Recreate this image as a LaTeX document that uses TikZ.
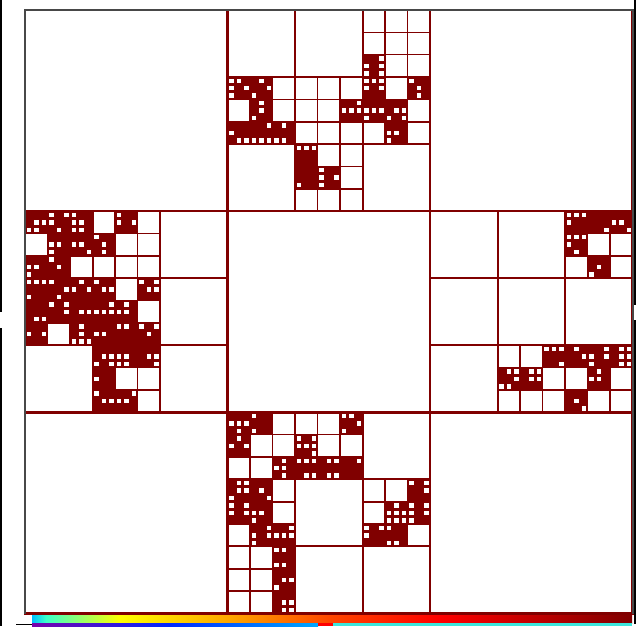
\documentclass[tikz,border=0pt]{standalone}
\definecolor{mred}{RGB}{128,0,0}
\definecolor{fgray}{RGB}{72,72,72}
\definecolor{cbA}{RGB}{0,190,255}
\definecolor{cbB}{RGB}{60,255,200}
\definecolor{cbC}{RGB}{255,255,0}
\definecolor{cbD}{RGB}{255,165,0}
\definecolor{cbE}{RGB}{255,70,0}
\definecolor{cbF}{RGB}{255,0,0}
\definecolor{cbG}{RGB}{128,0,0}
\definecolor{sbA}{RGB}{120,0,170}
\definecolor{sbB}{RGB}{0,40,255}
\definecolor{sbC}{RGB}{0,170,255}
\definecolor{sbD}{RGB}{60,230,220}
\tikzset{
  lone/.style={draw=mred, line width=2.6pt},
  ltwo/.style={draw=mred, line width=2pt},
  lthree/.style={draw=mred, line width=1.5pt},
  darkcell/.style={fill=mred},
  leafsq/.style={fill=white},
  frameline/.style={draw=fgray, line width=2pt},
  artline/.style={draw=black, line width=2pt},
}
\begin{document}
\begin{tikzpicture}[x=1pt,y=-1pt]
\useasboundingbox (0,0) rectangle (644,626);
\fill[white] (0,0) rectangle (644,626);
\begin{scope}[shift={(25,10)}, x=7.5pt, y=-7.451pt]
  % level-3 cells inside refined level-2 blocks
  \foreach \ax/\ay/\bl in {27/0/{2/0,0/1,1/1,2/1,1/2},
                           0/27/{0/0,1/0,0/1,1/1,1/2},
                           54/27/{2/0,1/2,2/2},
                           27/54/{0/0,1/0,0/1,2/1,0/2}} {
    \foreach \bx/\by in \bl {
      \foreach \i in {0,1,2} {
        \foreach \j in {0,1,2} {
          \draw[lthree] ({\ax+9*\bx+3*\i},{\ay+9*\by+3*\j}) rectangle +(3,3);
        }
      }
    }
  }
  % refined level-3 cells (dark) with level-4 leaves (white squares)
  \foreach \ax/\ay/\cl in {
    27/0/{6/2/{3,4,6,7,9},0/3/{1,2,4,6,7},1/3/{2,6,7},6/3/{1,2,3,4,6},8/3/{1,5,8},
          1/4/{2,5,7},5/4/{3,4,5,6},6/4/{4,5,6,7},7/4/{5,6,7,9},0/5/{4,8,9},
          1/5/{3,7,8,9},2/5/{2,7,8},7/5/{4,5,7},3/6/{1,2,3},3/7/{7},4/7/{1,4,6,7}},
    0/27/{0/0/{5,6,7,8},1/0/{1,3,4,8},2/0/{1,4,5,7,8},4/0/{1,4,6},1/1/{4,5,7},
          2/1/{4,5,9},3/1/{1,5,8},0/2/{4,5,7},1/2/{1,5},0/3/{1,2,3,7},1/3/{1,6,8},
          2/3/{2,4,6},3/3/{1,5,6},5/3/{1,3,5,6},0/4/{8,9},1/4/{1,3,6},2/4/{5,6},
          3/4/{3,4,5,6},4/4/{2,4,5},0/5/{4,6},2/5/{2,5,7,8,9},3/5/{4,5},4/5/{1,2},
          5/5/{1,3,5},3/6/{5,6,7,9},4/6/{4,5,7,8},5/6/{5,6,9},3/7/{4},3/8/{1,5,6},
          4/8/{3,4,5}},
    54/27/{6/0/{1,2,3,4},7/0/{9},8/0/{4,5,9},6/1/{1,2,3,4,8},7/2/{5,7},
          5/6/{1,2,3,9},6/6/{2,6},7/6/{3,4,6,7},8/6/{2,3,5,6,8,9},3/7/{2,3,6,7,8},
          4/7/{2,3,5,6},7/7/{2,4,5},6/8/{5,9}},
    27/54/{0/0/{4,5,6,8},1/0/{1,7},5/0/{1,2,6,7},0/1/{2,4,6},3/1/{1,3,4,5,6,9},
          2/2/{2,4,5,8},3/2/{1,2,3,8,9},4/2/{2,3,8,9},5/2/{3},0/3/{2,3,5,6,7},
          1/3/{5,9},8/3/{1,3,6},0/4/{1,3,4,6},1/4/{4,5,7},7/4/{2,4,5,6,7,8,9},
          8/4/{1,3,4,6,7},1/5/{3,4,6,7},2/5/{3,4,5,6},6/5/{1,3,4},7/5/{1,7,8},
          2/6/{1,2,7,8},2/7/{5,6,7},2/8/{5,6,8,9}}} {
    \foreach \cx/\cy/\ws in \cl {
      \fill[darkcell] ({\ax+3*\cx},{\ay+3*\cy}) rectangle +(3,3);
      \foreach \k in \ws {
        \fill[leafsq] ({\ax+3*\cx+mod(\k-1,3)+0.2},{\ay+3*\cy+int((\k-1)/3)+0.2}) rectangle +(0.6,0.6);
      }
    }
  }
  % level-2 cells in the four refined level-1 cells
  \foreach \ax/\ay in {27/0,0/27,54/27,27/54} {
    \foreach \i in {0,1,2} {
      \foreach \j in {0,1,2} {
        \draw[ltwo] ({\ax+9*\i},{\ay+9*\j}) rectangle +(9,9);
      }
    }
  }
  % level-1 cells
  \foreach \i in {0,1,2} {
    \foreach \j in {0,1,2} {
      \draw[lone] (27*\i,27*\j) rectangle +(27,27);
    }
  }
  % domain frame
  \draw[frameline] (0,81) -- (0,0) -- (81,0) -- (81,81);
\end{scope}
% colour bar
\shade[left color=cbA, right color=cbB] (32,615.5) rectangle (46,623);
\shade[left color=cbB, right color=cbC] (46,615.5) rectangle (120,623);
\shade[left color=cbC, right color=cbD] (120,615.5) rectangle (230,623);
\shade[left color=cbD, right color=cbE] (230,615.5) rectangle (330,623);
\shade[left color=cbE, right color=cbF] (330,615.5) rectangle (440,623);
\shade[left color=cbF, right color=cbG] (440,615.5) rectangle (632,623);
% strip of a second bar below
\shade[left color=sbA, right color=sbB] (32,623) rectangle (170,626);
\shade[left color=sbB, right color=sbC] (170,623) rectangle (318,626);
\fill[cbF] (318,623) rectangle (333,626);
\fill[sbD] (333,623) rectangle (632,626);
% window edges
\draw[artline] (1,0) -- (1,312);
\draw[artline] (1,328) -- (1,626);
\draw[artline] (635,0) -- (635,305);
\draw[artline] (635,320) -- (635,624);
\draw[draw=black, line width=1.2pt] (16,624.5) -- (32,624.5);
\end{tikzpicture}
\end{document}
